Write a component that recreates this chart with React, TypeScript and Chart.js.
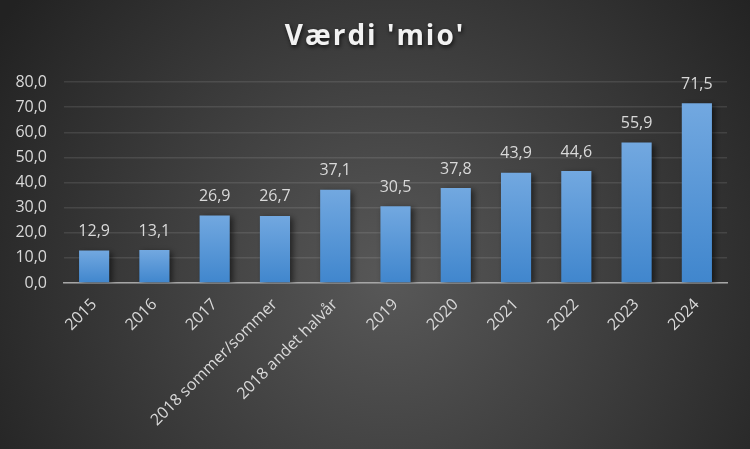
import React, { useEffect, useRef } from "react";
import { Chart, registerables } from "chart.js";

Chart.register(...registerables);

const TITLE = "Værdi 'mio'";
const categories = [
  "2015", "2016", "2017", "2018 sommer/sommer", "2018 andet halvår",
  "2019", "2020", "2021", "2022", "2023", "2024",
];
const values = [12.9, 13.1, 26.9, 26.7, 37.1, 30.5, 37.8, 43.9, 44.6, 55.9, 71.5];
const yMin = 0;
const yMax = 80;
const yStep = 10;

const fmt = (v: number) => v.toFixed(1).replace(".", ",");
const FONT = "'Open Sans', 'DejaVu Sans', sans-serif";

const bgPlugin = {
  id: "bgPlugin",
  beforeDraw(chart: any) {
    const { ctx, width, height } = chart;
    ctx.save();
    const g = ctx.createRadialGradient(width * 0.52, height * 0.62, 0, width * 0.52, height * 0.62, width * 0.62);
    g.addColorStop(0, "#585858");
    g.addColorStop(1, "#222222");
    ctx.fillStyle = g;
    ctx.fillRect(0, 0, width, height);
    ctx.font = `bold 28px ${FONT}`;
    (ctx as any).letterSpacing = "2px";
    ctx.textAlign = "center";
    ctx.textBaseline = "middle";
    ctx.shadowColor = "rgba(0,0,0,0.7)";
    ctx.shadowBlur = 4;
    ctx.shadowOffsetX = 1;
    ctx.shadowOffsetY = 2;
    ctx.fillStyle = "#f2f2f2";
    ctx.fillText(TITLE, 375, 37);
    ctx.restore();
  },
};

const shadowPlugin = {
  id: "shadowPlugin",
  beforeDatasetsDraw(chart: any) {
    const ctx = chart.ctx;
    ctx.save();
    ctx.shadowColor = "rgba(0,0,0,0.55)";
    ctx.shadowBlur = 6;
    ctx.shadowOffsetX = 3;
    ctx.shadowOffsetY = 2;
  },
  afterDatasetsDraw(chart: any) {
    chart.ctx.restore();
  },
};

const labelPlugin = {
  id: "labelPlugin",
  afterDraw(chart: any) {
    const ctx = chart.ctx;
    const meta = chart.getDatasetMeta(0);
    ctx.save();
    ctx.font = `16px ${FONT}`;
    ctx.fillStyle = "#d9d9d9";
    ctx.textAlign = "center";
    ctx.textBaseline = "middle";
    meta.data.forEach((el: any, i: number) => {
      ctx.fillText(fmt(values[i]), el.x, el.y - 19);
    });
    ctx.restore();
  },
};

export default function App() {
  const ref = useRef<HTMLCanvasElement>(null);
  useEffect(() => {
    if (!ref.current) return;
    const chart = new Chart(ref.current, {
      type: "bar",
      data: {
        labels: categories,
        datasets: [
          {
            data: values,
            backgroundColor: (c: any) => {
              const chartObj = c.chart;
              const ys = chartObj.scales?.y;
              if (!ys || c.type !== "data" || !chartObj.chartArea) return "#5b9bd5";
              const top = ys.getPixelForValue(c.parsed?.y ?? values[c.dataIndex]);
              const bot = ys.getPixelForValue(0);
              if (!isFinite(top) || !isFinite(bot) || top === bot) return "#5b9bd5";
              const g = chartObj.ctx.createLinearGradient(0, top, 0, bot);
              g.addColorStop(0, "#72a8e0");
              g.addColorStop(1, "#4086cd");
              return g;
            },
            borderWidth: 0,
            categoryPercentage: 1,
            barPercentage: 0.5,
          },
        ],
      },
      options: {
        animation: false,
        responsive: false,
        layout: { padding: { left: 0, right: 23, top: 82, bottom: 0 } },
        plugins: {
          legend: { display: false },
          title: { display: false },
          tooltip: { enabled: false },
        },
        scales: {
          x: {
            grid: { display: false, drawTicks: false },
            border: { display: true, color: "#a6a6a6", width: 1.5 },
            ticks: {
              color: "#d9d9d9",
              font: { family: FONT, size: 16 },
              minRotation: 45,
              maxRotation: 45,
              autoSkip: false,
              padding: 12,
            },
            afterFit: (s: any) => { s.height = 166; },
          },
          y: {
            min: yMin,
            max: yMax,
            grid: { color: "rgba(255,255,255,0.1)", lineWidth: 1.5, drawTicks: false },
            border: { display: false },
            ticks: {
              stepSize: yStep,
              color: "#d9d9d9",
              font: { family: FONT, size: 16 },
              padding: 17,
              callback: (v: any) => fmt(Number(v)),
            },
            afterFit: (s: any) => { s.width = 64; },
          },
        },
      },
      plugins: [bgPlugin, shadowPlugin, labelPlugin],
    });
    chart.update();
    return () => chart.destroy();
  }, []);
  return (
    <div style={{ position: "absolute", left: 0, top: 0, width: 750, height: 449 }}>
      <canvas ref={ref} width={750} height={449} style={{ width: 750, height: 449, display: "block" }} />
    </div>
  );
}
